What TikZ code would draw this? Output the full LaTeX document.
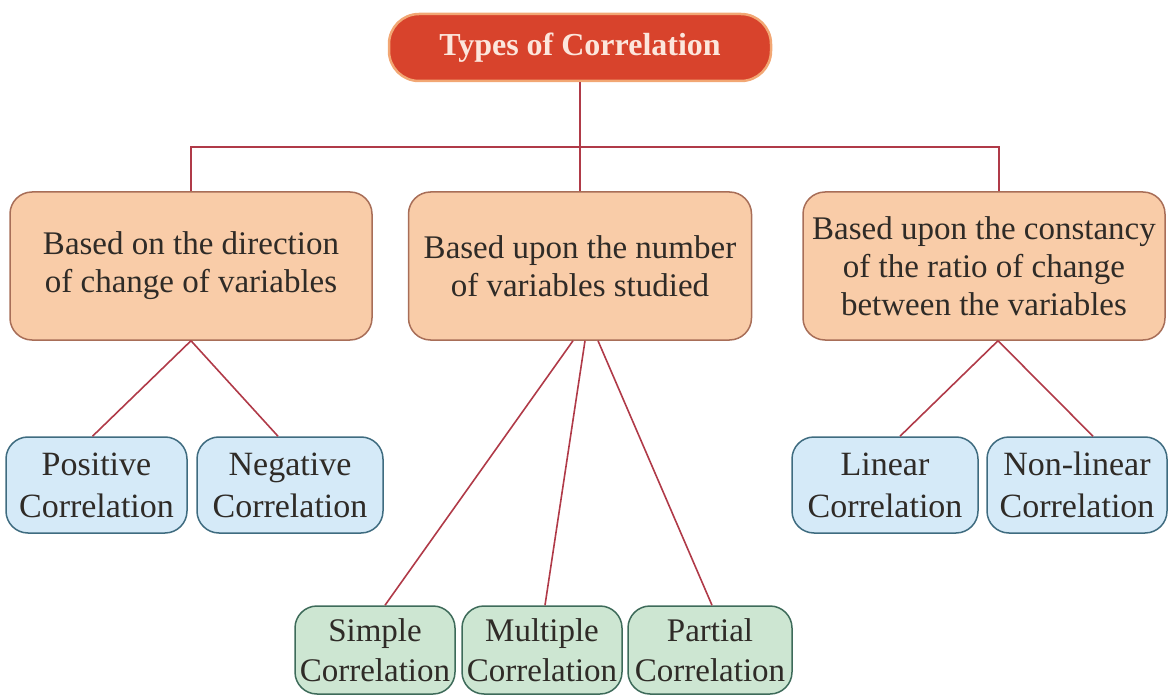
\documentclass[tikz,border=0pt]{standalone}
\usepackage{fontspec}
\setmainfont{Liberation Serif}
\usetikzlibrary{calc}

\definecolor{titlefill}{HTML}{D8432C}
\definecolor{titleedge}{HTML}{F2A774}
\definecolor{titletext}{HTML}{FCE6DC}
\definecolor{peach}{HTML}{F9CCA8}
\definecolor{peachedge}{HTML}{A86E58}
\definecolor{bluefill}{HTML}{D5EAF8}
\definecolor{blueedge}{HTML}{3F6C80}
\definecolor{greenfill}{HTML}{CDE6D2}
\definecolor{greenedge}{HTML}{3E6B5A}
\definecolor{linkred}{HTML}{B03A48}
\definecolor{inktext}{HTML}{2F2B27}

\tikzset{
  titlebox/.style={rounded corners=30pt, fill=titlefill, draw=titleedge, line width=2.5pt,
    minimum width=382pt, minimum height=67pt, inner sep=0pt, text=titletext,
    font=\fontsize{32}{38}\selectfont\bfseries},
  groupbox/.style={rounded corners=22pt, fill=peach, draw=peachedge, line width=1.5pt,
    minimum height=148pt, inner sep=0pt, align=center, text=inktext,
    font=\fontsize{33}{38}\selectfont},
  leafblue/.style={rounded corners=22pt, fill=bluefill, draw=blueedge, line width=1.5pt,
    minimum height=96pt, inner sep=0pt, align=center, text=inktext,
    font=\fontsize{34}{42}\selectfont},
  leafgreen/.style={rounded corners=22pt, fill=greenfill, draw=greenedge, line width=1.5pt,
    minimum height=88pt, inner sep=0pt, align=center, text=inktext,
    font=\fontsize{33}{40}\selectfont},
  link/.style={draw=linkred, line width=1.6pt}
}

\begin{document}
\begin{tikzpicture}[x=1pt, y=-1pt]
  \useasboundingbox (0,0) rectangle (1168,695);

  % root
  \node[titlebox] (root) at (580,47.5) {Types of Correlation};

  % classification criteria
  \node[groupbox, minimum width=362pt] (dir) at (191,266)
    {Based on the direction\\of change of variables};
  \node[groupbox, minimum width=343pt] (num) at (580,266)
    {Based upon the number\\of variables studied};
  \node[groupbox, minimum width=362pt] (ratio) at (984,266)
    {Based upon the constancy\\of the ratio of change\\between the variables};

  % direction of change
  \node[leafblue, minimum width=181pt] (pos) at (96.5,485) {Positive\\Correlation};
  \node[leafblue, minimum width=186pt] (neg) at (290,485) {Negative\\Correlation};

  % constancy of ratio
  \node[leafblue, minimum width=186pt] (lin) at (885,485) {Linear\\Correlation};
  \node[leafblue, minimum width=180pt] (nonlin) at (1077,485) {Non-linear\\Correlation};

  % number of variables
  \node[leafgreen, minimum width=160pt] (simple) at (375,650) {Simple\\Correlation};
  \node[leafgreen, minimum width=160pt] (multi) at (542,650) {Multiple\\Correlation};
  \node[leafgreen, minimum width=164pt] (partial) at (710,650) {Partial\\Correlation};

  % trunk and branches
  \coordinate (hub) at ($(root.south)+(0,65)$);
  \coordinate (rtop) at ($(ratio.north)+(15,0)$);
  \draw[link] (root.south) -- (hub);
  \draw[link] (dir.north) |- (hub) -| (rtop);
  \draw[link] (hub) -- (num.north);

  % direction links
  \coordinate (dirfoot) at (dir.south);
  \draw[link] (dirfoot) -- ([xshift=-4pt]pos.north);
  \draw[link] (dirfoot) -- ([xshift=-12pt]neg.north);

  % number-of-variables links
  \coordinate (numfootL) at ($(num.south)+(-7,0)$);
  \coordinate (numfootM) at ($(num.south)+(5,0)$);
  \coordinate (numfootR) at ($(num.south)+(18,0)$);
  \draw[link] (numfootL) -- ([xshift=10pt]simple.north);
  \draw[link] (numfootM) -- ([xshift=3pt]multi.north);
  \draw[link] (numfootR) -- ([xshift=2pt]partial.north);

  % ratio links
  \coordinate (ratiofoot) at ($(ratio.south)+(14,0)$);
  \draw[link] (ratiofoot) -- ([xshift=15pt]lin.north);
  \draw[link] (ratiofoot) -- ([xshift=16pt]nonlin.north);
\end{tikzpicture}
\end{document}
